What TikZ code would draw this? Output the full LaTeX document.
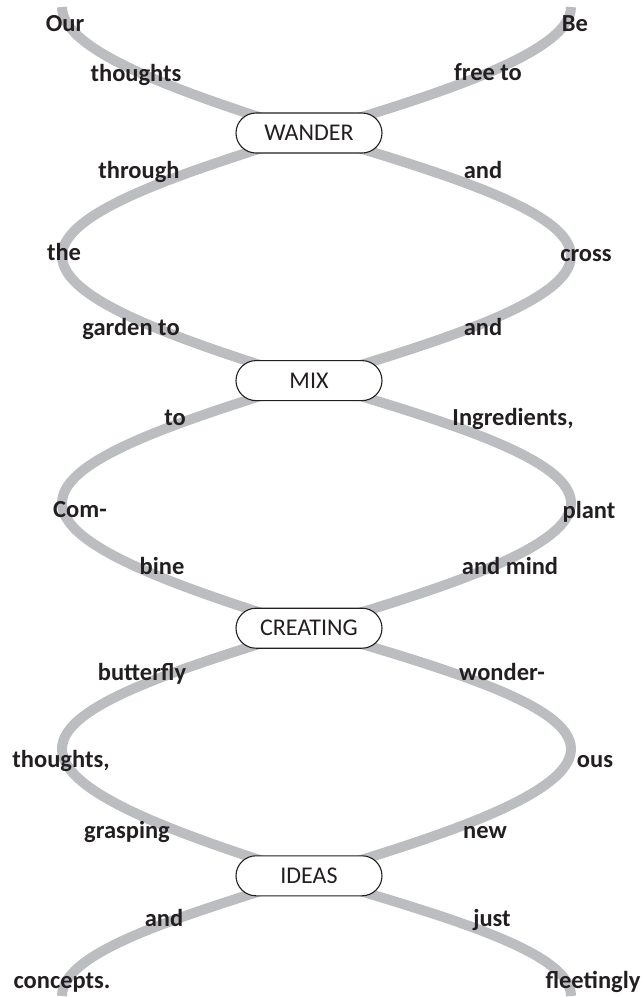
\documentclass[tikz,border=0pt]{standalone}
\usepackage{fontspec}
\setmainfont{Carlito}
\usepackage{xcolor}
\usetikzlibrary{positioning,backgrounds}
\definecolor{strandgray}{RGB}{187,189,192}
\definecolor{inkblack}{RGB}{35,31,32}

\begin{document}
\begin{tikzpicture}[x=1pt, y=-1pt, node distance=206.5pt,
    strand/.style = {draw=strandgray, line width=10pt},
    stage/.style = {draw=inkblack, line width=1.1pt, fill=white, rounded corners=20pt,
                    minimum width=146pt, minimum height=40pt, inner sep=0pt,
                    text=inkblack, font=\fontsize{24}{28}\selectfont},
    word/.style = {anchor=mid, inner sep=0pt, text=inkblack,
                   font=\fontsize{24.5}{28}\selectfont\bfseries}]
\useasboundingbox (0,0) rectangle (641,997);

% the four crossings
\node[stage] (wander) at (309,133) {WANDER};
\node[stage, below=of wander] (mix) {MIX};
\node[stage, below=of mix] (creating) {CREATING};
\node[stage, below=of creating] (ideas) {IDEAS};

% turning points of the two strands
\coordinate (tl) at (62,7);    \coordinate (tr) at (571,7);
\coordinate (l1) at (62,256);  \coordinate (r1) at (571,256);
\coordinate (l2) at (62,503);  \coordinate (r2) at (571,503);
\coordinate (l3) at (62,749);  \coordinate (r3) at (571,749);
\coordinate (bl) at (62,996);  \coordinate (br) at (571,996);

\begin{scope}[on background layer]
  \path[strand] (tl) .. controls +(0,45) and +(-127,-40) .. (wander.center)
    .. controls +(134,40) and +(0,-45) .. (r1)
    .. controls +(0,45) and +(134,-40) .. (mix.center)
    .. controls +(-127,40) and +(0,-45) .. (l2)
    .. controls +(0,45) and +(-127,-40) .. (creating.center)
    .. controls +(134,40) and +(0,-45) .. (r3)
    .. controls +(0,45) and +(134,-40) .. (ideas.center)
    .. controls +(-127,40) and +(0,-45) .. (bl);
  \path[strand] (tr) .. controls +(0,45) and +(134,-40) .. (wander.center)
    .. controls +(-127,40) and +(0,-45) .. (l1)
    .. controls +(0,45) and +(-127,-40) .. (mix.center)
    .. controls +(134,40) and +(0,-45) .. (r2)
    .. controls +(0,45) and +(134,-40) .. (creating.center)
    .. controls +(-127,40) and +(0,-45) .. (l3)
    .. controls +(0,45) and +(-127,-40) .. (ideas.center)
    .. controls +(134,40) and +(0,-45) .. (br);
\end{scope}

% words along the left strand
\node[word] (w-our) at (65,29) {Our};
\node[word] (w-thoughts) at (136,79) {thoughts};
\node[word] (w-through) at (139,176) {through};
\node[word] (w-the) at (64,258) {the};
\node[word] (w-garden) at (131,333) {garden to};
\node[word] (w-to) at (175,423) {to};
\node[word] (w-com) at (80,515) {Com-};
\node[word] (w-bine) at (162,572) {bine};
\node[word] (w-butterfly) at (142,678) {butterfly};
\node[word] (w-thoughts2) at (61,765) {thoughts,};
\node[word] (w-grasping) at (127,836) {grasping};
\node[word] (w-and4) at (164,924) {and};
\node[word] (w-concepts) at (62,986) {concepts.};

% words along the right strand
\node[word] (w-be) at (575,29) {Be};
\node[word] (w-free) at (488,78) {free to};
\node[word] (w-and1) at (483,176) {and};
\node[word] (w-cross) at (586,259) {cross};
\node[word] (w-and2) at (483,333) {and};
\node[word] (w-ingredients) at (513,423) {Ingredients,};
\node[word] (w-plant) at (589,516) {plant};
\node[word] (w-mind) at (510,572) {and mind};
\node[word] (w-wonder) at (502,678) {wonder-};
\node[word] (w-ous) at (595,765) {ous};
\node[word] (w-new) at (485,836) {new};
\node[word] (w-just) at (492,924) {just};
\node[word] (w-fleetingly) at (593,986) {fleetingly};
\end{tikzpicture}
\end{document}
